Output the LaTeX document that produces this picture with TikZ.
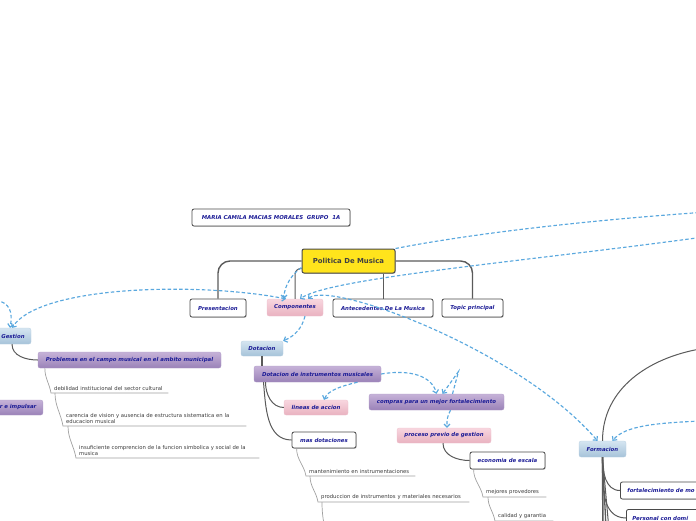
\documentclass[tikz,border=0pt]{standalone}
\usepackage{fontspec}
\setmainfont{DejaVu Sans}
\usetikzlibrary{arrows.meta,calc,shadows}
\definecolor{lbl}{HTML}{1C1C96}
\definecolor{bord}{HTML}{4A4A4A}
\definecolor{conn}{HTML}{5A5A5A}
\definecolor{itemT}{HTML}{3A3A3A}
\definecolor{iln}{HTML}{A0A0A0}
\definecolor{relc}{HTML}{5AA8DE}
\definecolor{yel}{HTML}{FFE41C}
\definecolor{bluT}{HTML}{D5E5F1}
\definecolor{bluB}{HTML}{A6C3D9}
\definecolor{pnkT}{HTML}{F8D6DF}
\definecolor{pnkB}{HTML}{E9B2C0}
\definecolor{purT}{HTML}{C6B2D8}
\definecolor{purB}{HTML}{9A82B8}
\definecolor{shd}{HTML}{C8C8C8}
\begin{document}
\begin{tikzpicture}[x=1pt,y=1pt,
  box/.style={rounded corners=2pt, inner sep=0pt, font=\fontsize{5.4}{6.2}\selectfont\bfseries\itshape, text=lbl, align=center},
  wbox/.style={box, draw=bord, line width=0.8pt, fill=white, drop shadow={shadow xshift=0.7pt, shadow yshift=-0.8pt, fill=shd, opacity=1}},
  bbox/.style={box, top color=bluT, bottom color=bluB, draw=bluB!80!white, line width=0.3pt},
  pbox/.style={box, top color=pnkT, bottom color=pnkB, draw=pnkB!80!white, line width=0.3pt},
  vbox/.style={box, top color=purT, bottom color=purB, draw=purB!80!white, line width=0.3pt},
  item/.style={anchor=south west, inner xsep=3pt, inner ysep=2pt, align=left, font=\fontsize{5.3}{6.6}\selectfont, text=itemT},
  mainc/.style={draw=conn, line width=1.4pt},
  subc/.style={draw=conn, line width=1pt},
  iline/.style={draw=iln, line width=0.7pt},
  rel/.style={draw=relc, line width=1.15pt, dash pattern=on 3.5pt off 2.2pt},
  tip/.style={-{Straight Barb[length=3pt,width=6pt]}},
  tips/.style={{Straight Barb[length=3pt,width=6pt]}-{Straight Barb[length=3pt,width=6pt]}}
]
\useasboundingbox (0,0) rectangle (696,-520);
\clip (0,0) rectangle (696,-520);

% ---------- nodes ----------
\node[wbox, minimum width=158, minimum height=17] (maria) at (271,-217.5) {MARIA CAMILA MACIAS MORALES\ \ GRUPO\ \ 1A};
\node[box, fill=yel, draw=bord, line width=1pt, minimum width=93, minimum height=24, font=\fontsize{6.9}{8}\selectfont\bfseries, text=black!75, drop shadow={shadow xshift=0.7pt, shadow yshift=-0.8pt, fill=shd, opacity=1}] (pol) at (348.5,-261) {Politica De Musica};
\node[wbox, minimum width=56, minimum height=18] (pres) at (218,-308) {Presentacion};
\node[pbox, minimum width=56, minimum height=17] (comp) at (295,-307.5) {Componentes};
\node[wbox, minimum width=100, minimum height=18] (ante) at (383,-308) {Antecedentes De La Musica};
\node[wbox, minimum width=61, minimum height=18] (topic) at (472.5,-308) {Topic principal};

\node[bbox, minimum width=46, minimum height=16] (gest) at (8,-336) {\hspace*{10pt}Gestion};
\node[vbox, minimum width=183, minimum height=16] (prob) at (129.5,-360) {Problemas en el campo musical en el ambito municipal};
\node[vbox, anchor=east, text width=60, align=right, inner xsep=6.5pt, minimum height=15] (impul) at (43,-407.5) {r e impulsar};

\node[bbox, minimum width=42, minimum height=15] (dot) at (262,-348.5) {Dotacion};
\node[vbox, minimum width=127, minimum height=16] (dotins) at (317.5,-374) {Dotacion de instrumentos musicales};
\node[pbox, minimum width=64, minimum height=15] (lineas) at (316,-407.5) {lineas de accion};
\node[wbox, minimum width=64, minimum height=16] (masdot) at (324,-440) {mas dotaciones};
\node[vbox, minimum width=135, minimum height=16] (compras) at (436.5,-402) {compras para un mejor fortalecimiento};
\node[pbox, minimum width=94, minimum height=15] (proceso) at (444,-435.5) {proceso previo de gestion};
\node[wbox, minimum width=75, minimum height=17] (econ) at (507.5,-460.5) {economia de escala};

\node[bbox, minimum width=47, minimum height=16] (form) at (602.5,-449) {Formacion};
\node[wbox, anchor=west, text width=100, align=left, inner xsep=7pt, minimum height=17] (fort) at (620,-490.5) {fortalecimiento de mo};
\node[wbox, anchor=west, text width=100, align=left, inner xsep=6pt, minimum height=17] (pers) at (626,-518) {Personal con domi};

% items
\node[item, text width=111] (i1) at (51,-393) {debilidad institucional del sector cultural};
\node[item, text width=177] (i2) at (63,-426) {carencia de vision y ausencia de estructura sistematica en la\\educacion musical};
\node[item, text width=177] (i3) at (76,-458) {insuficiente comprencion de la funcion simbolica y social de la\\musica};
\node[item, text width=103] (m1) at (306,-476) {mantenimiento en instrumentaciones};
\node[item, text width=145] (m2) at (318,-502) {produccion de instrumentos y materiales necesarios};
\node[item, text width=57] (e1) at (483,-497) {mejores provedores};
\node[item, text width=52] (e2) at (495,-521) {calidad y garantia};

% ---------- free ends ----------
\coordinate (offA) at (700,-212.5);
\coordinate (offB) at (700,-237.5);
\coordinate (offL) at (-4,-300);
\coordinate (offF) at (700,-421);
\coordinate (offR) at (700,-349);
\coordinate (down1) at (603,-530);
\coordinate (down2) at (606,-530);
\coordinate (down3) at (609,-530);
\coordinate (down4) at (325,-530);
\coordinate (pk) at (458.5,-371.5);

% ---------- hierarchy connectors ----------
\draw[mainc, rounded corners=12pt] (pol.west) -| (pres.north);
\draw[mainc, rounded corners=12pt] (pol.east) -| (topic.north);
\draw[mainc, line width=1pt] (ante.north |- pol.south) -- (ante.north);
\draw[mainc, line width=1pt, rounded corners=6pt] ([yshift=5pt]pol.south west) -| (comp.north);

\draw[subc] ([xshift=4pt]gest.south) to[out=-90,in=180] (prob.west);
\draw[subc, line width=2pt] (dot.south) -- (dot.south |- dotins.north);
\draw[subc] ([xshift=-52pt]dotins.south) to[out=-90,in=180] (lineas.west);
\draw[subc] ([xshift=-54pt]dotins.south) to[out=-85,in=180] (masdot.west);
\draw[subc] ([xshift=-1pt]proceso.south) to[out=-90,in=180] (econ.west);

\draw[subc] (form.north) to[out=90,in=190] (offR);
\draw[subc] (form.south) to[out=-90,in=180] (fort.west);
\draw[subc] (form.south) to[out=-90,in=180] (pers.west);
\draw[subc, line width=1.6pt] (form.south) -- (down1);
\draw[subc, line width=1.3pt] (form.south) to[out=-88,in=92] (down2);
\draw[subc] (form.south) to[out=-85,in=95] (down3);

% item lines
\draw[iline] ([xshift=7pt]prob.south west) to[out=-90,in=100] (i1.south west) -- (i1.south east);
\draw[iline] ([xshift=4pt]i1.south west) to[out=-90,in=100] (i2.south west) -- (i2.south east);
\draw[iline] ([xshift=5pt]i2.south west) to[out=-90,in=100] (i3.south west) -- (i3.south east);
\draw[iline] ([xshift=5pt]masdot.south west) to[out=-90,in=100] (m1.south west) -- (m1.south east);
\draw[iline] ([xshift=4pt]m1.south west) to[out=-90,in=100] (m2.south west) -- (m2.south east);
\draw[iline] ([xshift=4pt]m2.south west) to[out=-90,in=100] (down4);
\draw[iline] ([xshift=4pt]econ.south west) to[out=-90,in=100] (e1.south west) -- (e1.south east);
\draw[iline] ([xshift=5pt]e1.south west) to[out=-90,in=100] (e2.south west) -- (e2.south east);

% ---------- relationship (dashed) connectors ----------
\draw[rel] (pol.north east) .. controls (470,-234) and (580,-221) .. (offA);
\draw[rel, tip] (offB) .. controls (520,-262) and (330,-278) .. ([xshift=5pt]comp.north);
\draw[rel, tip] ([yshift=6pt]pol.south west) .. controls (292,-274) and (284,-286) .. ([xshift=-11pt]comp.north);
\draw[rel, tips] ([xshift=-9pt]comp.north) .. controls (200,-282) and (40,-285) .. ([xshift=4pt]gest.north);
\draw[rel, tip] (offL) .. controls (10,-303) and (13,-312) .. ([xshift=2pt]gest.north);
\draw[rel, tips] ([xshift=13pt]comp.north) .. controls (330,-280) and (520,-350) .. ([xshift=-5pt]form.north);
\draw[rel, tip] (offF) .. controls (660,-423) and (625,-425) .. ([xshift=10pt]form.north);
\draw[rel, tip] ([xshift=10pt]comp.south) .. controls (302,-328) and (295,-336) .. (dot.north east);
\draw[rel, tip] ([xshift=40pt]dotins.south) .. controls (342,-386) and (328,-390) .. ([xshift=8pt]lineas.north);
\draw[rel, tip] (dotins.east) .. controls (410,-369) and (432,-376) .. ([xshift=0pt]compras.north);
\draw[rel, tip] ([xshift=16pt]compras.north) -- (pk) -- ([xshift=6pt]compras.north);
\draw[rel, tip] ([xshift=14pt]compras.south) .. controls (447,-418) .. ([xshift=3pt]proceso.north);
\end{tikzpicture}
\end{document}
